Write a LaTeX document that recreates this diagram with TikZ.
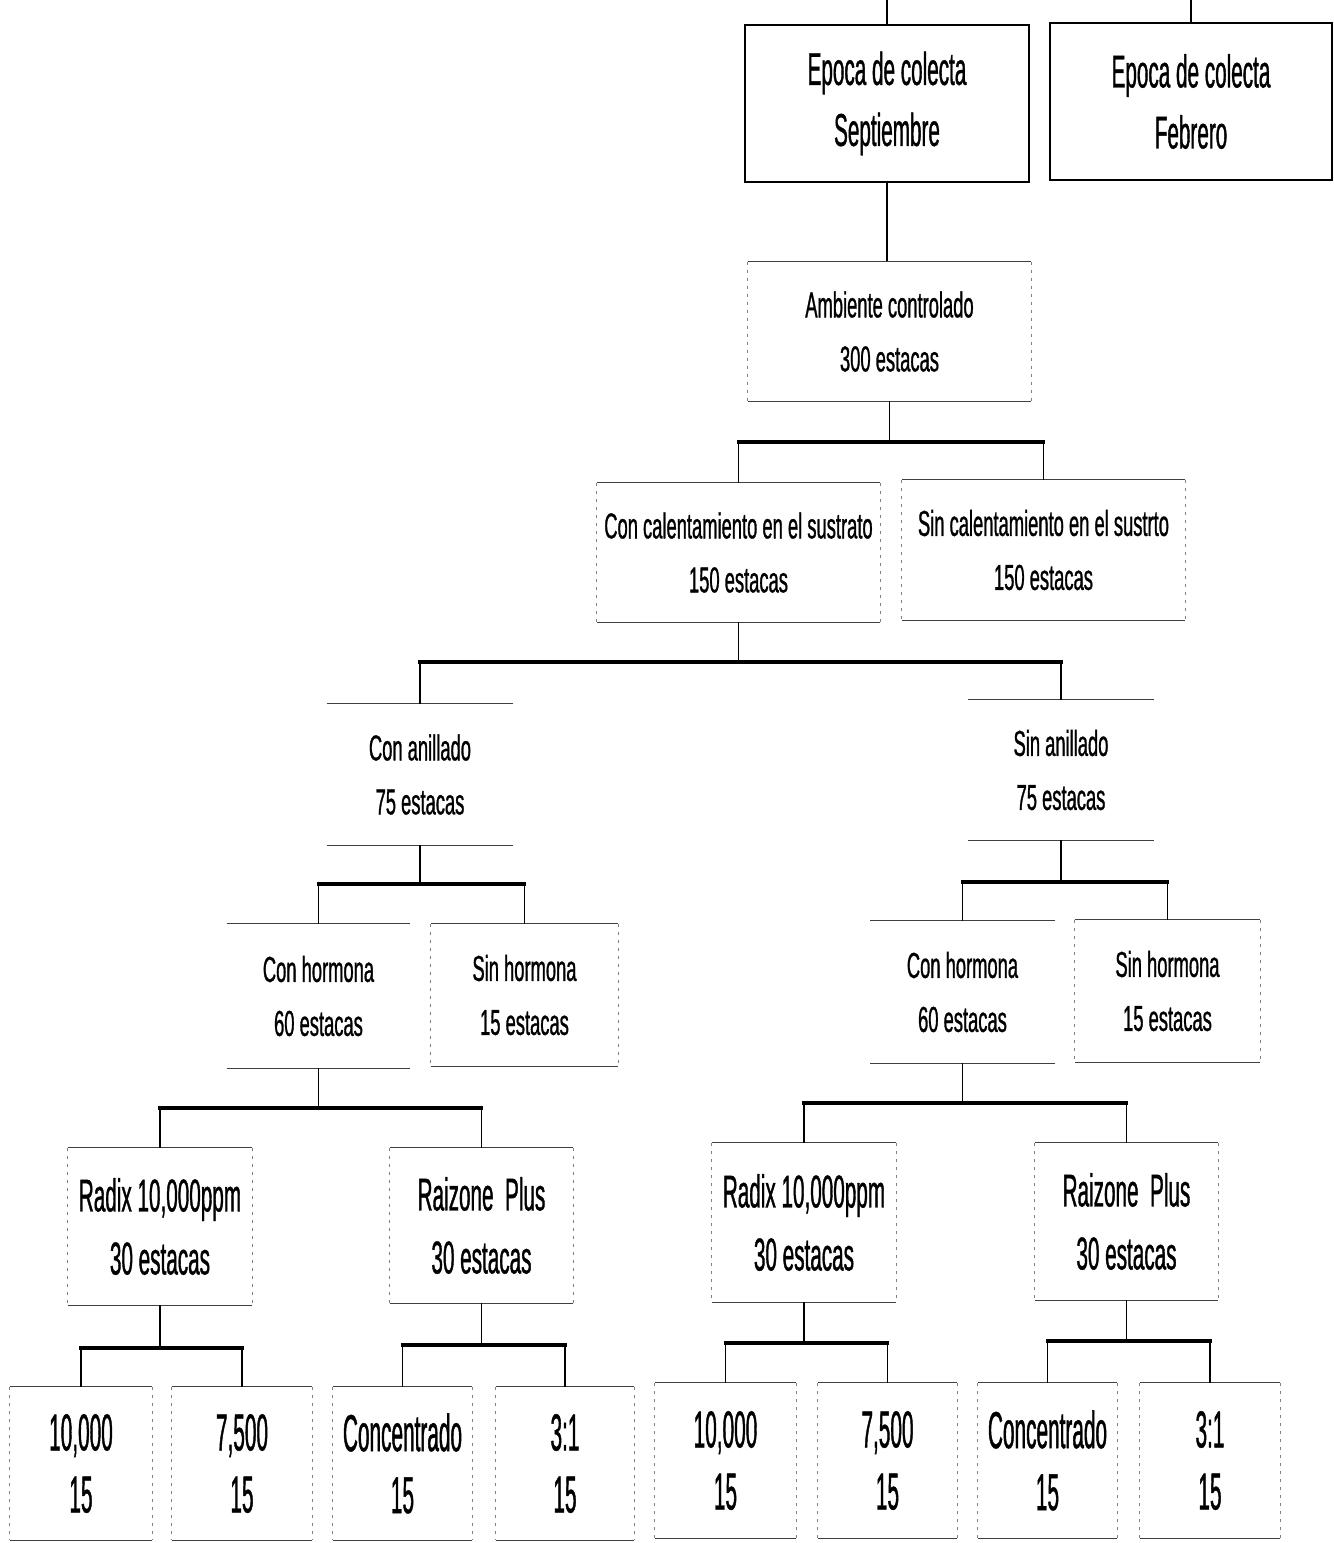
\documentclass[tikz,border=0pt]{standalone}
\usepackage{fontspec}
\newfontfamily\fA[FakeStretch=0.45,FakeBold=0.8]{Liberation Sans}
\newfontfamily\fB[FakeStretch=0.51,FakeBold=0.8]{Liberation Sans}
\newfontfamily\fC[FakeStretch=0.40,FakeBold=0.8]{Liberation Sans}
\newcommand\tbedges[1]{\draw[hedge] (#1.north west) -- (#1.north east); \draw[hedge] (#1.south west) -- (#1.south east);}
\newcommand\sdedges[1]{\draw[vedge] (#1.north west) -- (#1.south west); \draw[vedge] (#1.north east) -- (#1.south east);}
\newcommand\forkto[4]{%
 \draw[stem] (#1.south) -- (#1.south |- 0,#2);
 \draw[stem] (#3.north |- 0,#2) -- (#3.north);
 \draw[stem] (#4.north |- 0,#2) -- (#4.north);
 \draw[barline] (#3.north |- 0,#2) -- (#4.north |- 0,#2);}
\begin{document}
\begin{tikzpicture}[x=1pt,y=-1pt,
 box/.style={rectangle, inner sep=0pt, align=center, text=black},
 heavy/.style={box, draw=black, line width=2.6pt},
 lvA/.style={font=\fA\fontsize{46}{61}\selectfont},
 lvB/.style={font=\fB\fontsize{36}{54}\selectfont},
 lvR/.style={font=\fA\fontsize{46}{63}\selectfont},
 lvC/.style={font=\fC\fontsize{52}{62}\selectfont},
 hedge/.style={draw=black!75, line width=1.2pt},
 vedge/.style={draw=black!50, line width=0.8pt, dash pattern=on 3pt off 5pt},
 stem/.style={draw=black, line width=1.8pt},
 barline/.style={draw=black, line width=3.6pt, line cap=rect}]
\useasboundingbox[fill=white] (0,0) rectangle (1334,1543);

% level 1
\node[heavy, lvA, minimum width=284, minimum height=157] (sep) at (887,103.5) {Epoca de colecta\\Septiembre};
\node[heavy, lvA, minimum width=282, minimum height=157] (feb) at (1191,101.5) {Epoca de colecta\\Febrero};
\coordinate (top1) at (887,0);
\coordinate (top2) at (1191,0);
\draw[stem] (top1) -- (sep.north);
\draw[stem] (top2) -- (feb.north);

% level 2
\node[box, lvB, minimum width=283, minimum height=139] (amb) at (889.5,331.5) {Ambiente controlado\\300 estacas};
\draw[stem] (sep.south) -- (sep.south |- amb.north);

% level 3
\node[box, lvB, minimum width=283, minimum height=139] (conc) at (738.5,552.5) {Con calentamiento en el sustrato\\150 estacas};
\node[box, lvB, minimum width=283, minimum height=140] (sinc) at (1043.5,550) {Sin calentamiento en el sustrto\\150 estacas};

% level 4
\node[box, lvB, minimum width=186, minimum height=141] (cana) at (420,774.5) {Con anillado\\75 estacas};
\node[box, lvB, minimum width=185, minimum height=140] (sana) at (1061,770) {Sin anillado\\75 estacas};

% level 5
\node[box, lvB, minimum width=183, minimum height=144] (conhL) at (318.5,996) {Con hormona\\60 estacas};
\node[box, lvB, minimum width=187, minimum height=142] (sinhL) at (524.5,995) {Sin hormona\\15 estacas};
\node[box, lvB, minimum width=185, minimum height=142] (conhR) at (962.5,992) {Con hormona\\60 estacas};
\node[box, lvB, minimum width=185, minimum height=142] (sinhR) at (1167.5,991) {Sin hormona\\15 estacas};

% level 6
\node[box, lvR, minimum width=184, minimum height=157] (radL) at (160,1226.5) {Radix 10,000ppm\\30 estacas};
\node[box, lvR, minimum width=183, minimum height=155] (raiL) at (481.5,1225.5) {Raizone~ Plus\\30 estacas};
\node[box, lvR, minimum width=184, minimum height=159] (radR) at (804,1222.5) {Radix 10,000ppm\\30 estacas};
\node[box, lvR, minimum width=183, minimum height=157] (raiR) at (1126.5,1221.5) {Raizone~ Plus\\30 estacas};

% level 7
\node[box, lvC, minimum width=142, minimum height=153] (l1) at (81,1463.5) {10,000\\15};
\node[box, lvC, minimum width=140, minimum height=153] (l2) at (242,1463.5) {7,500\\15};
\node[box, lvC, minimum width=139, minimum height=153] (l3) at (402.5,1463.5) {Concentrado\\15};
\node[box, lvC, minimum width=138, minimum height=153] (l4) at (565,1463.5) {3:1\\15};
\node[box, lvC, minimum width=141, minimum height=155] (r1) at (725.5,1460.5) {10,000\\15};
\node[box, lvC, minimum width=139, minimum height=155] (r2) at (887.5,1460.5) {7,500\\15};
\node[box, lvC, minimum width=139, minimum height=155] (r3) at (1047.5,1460.5) {Concentrado\\15};
\node[box, lvC, minimum width=140, minimum height=155] (r4) at (1210,1460.5) {3:1\\15};

% box edges
\foreach \n in {amb,conc,sinc,cana,sana,conhL,sinhL,conhR,sinhR,radL,raiL,radR,raiR,l1,l2,l3,l4,r1,r2,r3,r4} {\tbedges{\n}}
\foreach \n in {amb,conc,sinc,sinhL,sinhR,radL,raiL,radR,raiR,l1,l2,l3,l4,r1,r2,r3,r4} {\sdedges{\n}}

% connectors
\forkto{amb}{442}{conc}{sinc}
\forkto{conc}{662}{cana}{sana}
\forkto{cana}{884}{conhL}{sinhL}
\forkto{sana}{882}{conhR}{sinhR}
\forkto{conhL}{1108}{radL}{raiL}
\forkto{conhR}{1103}{radR}{raiR}
\forkto{radL}{1348}{l1}{l2}
\forkto{raiL}{1345}{l3}{l4}
\forkto{radR}{1343}{r1}{r2}
\forkto{raiR}{1341}{r3}{r4}
\end{tikzpicture}
\end{document}
